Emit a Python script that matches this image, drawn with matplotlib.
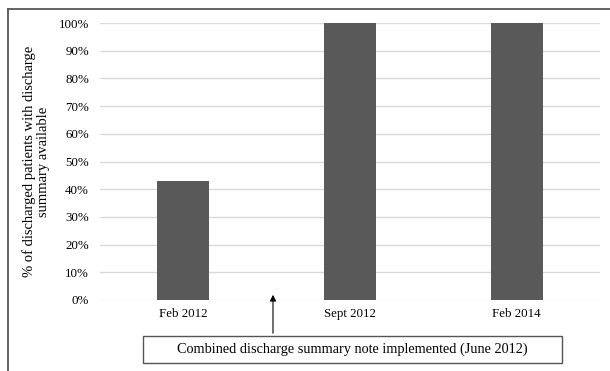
import matplotlib
matplotlib.use("Agg")
import matplotlib.pyplot as plt
from matplotlib.lines import Line2D
from matplotlib.patches import Rectangle, FancyArrowPatch

# Data
periods = ["Feb 2012", "Sept 2012", "Feb 2014"]
pct_available = [43, 100, 100]
y_ticks = list(range(0, 101, 10))

plt.rcParams['font.family'] = ['Liberation Serif', 'DejaVu Serif']

W, H = 610, 371
fig = plt.figure(figsize=(W / 100, H / 100), dpi=100)

# plot area in pixel coordinates of the reference
left, right, top, bottom = 100, 600, 23, 300
ax = fig.add_axes([left / W, 1 - bottom / H, (right - left) / W, (bottom - top) / H])

ax.bar(range(len(periods)), pct_available, width=0.31, color='#595959', zorder=3)
ax.set_xlim(-0.5, len(periods) - 0.5)
ax.set_ylim(0, 100)
ax.set_yticks(y_ticks)
ax.set_yticklabels([f"{t}%" for t in y_ticks], fontsize=9.3)
ax.set_xticks(range(len(periods)))
ax.set_xticklabels(periods, fontsize=9.3)
ax.tick_params(length=0)
ax.tick_params(axis='y', pad=8)
ax.tick_params(axis='x', pad=6)
ax.grid(axis='y', color='#d9d9d9', linewidth=1, zorder=0)
for s in ax.spines.values():
    s.set_visible(False)
ax.set_ylabel("% of discharged patients with discharge\nsummary available", fontsize=10.5,
              linespacing=1.1, labelpad=6)

# outer frame: only top and left edges are visible
fig.add_artist(Line2D([8 / W, 8 / W], [0, 1 - 9 / H], transform=fig.transFigure,
                      color='#555555', linewidth=1.3))
fig.add_artist(Line2D([8 / W, 1], [1 - 9 / H, 1 - 9 / H], transform=fig.transFigure,
                      color='#555555', linewidth=1.3))

# annotation box and arrow
bx0, bx1, by0, by1 = 143, 562, 336, 363
fig.add_artist(Rectangle((bx0 / W, 1 - by1 / H), (bx1 - bx0) / W, (by1 - by0) / H,
                         transform=fig.transFigure, fill=False, edgecolor='#555555',
                         linewidth=1.0))
fig.text((bx0 + bx1) / 2 / W, 1 - (by0 + by1) / 2 / H,
         "Combined discharge summary note implemented (June 2012)",
         ha='center', va='center', fontsize=10.3)
fig.add_artist(FancyArrowPatch(
    (273 / W, 1 - 336 / H), (273 / W, 1 - 292 / H), transform=fig.transFigure,
    arrowstyle='-|>', mutation_scale=9, color='black', linewidth=0.8))

fig.savefig("out.png", dpi=100)
